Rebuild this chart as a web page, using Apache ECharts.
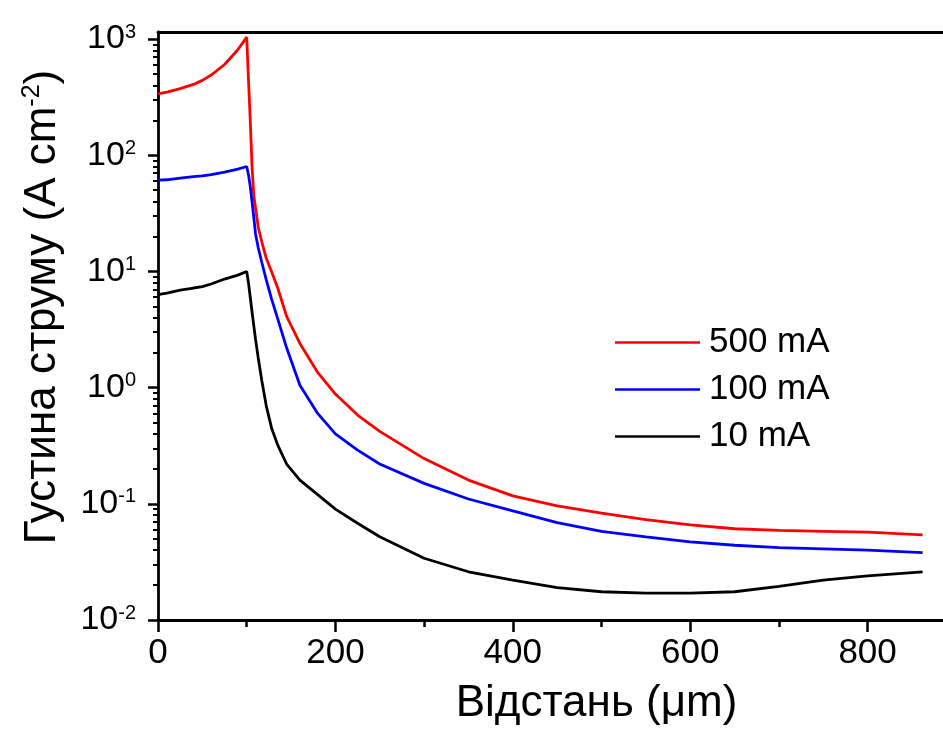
<!DOCTYPE html>
<html lang="uk">
  <head>
    <meta charset="UTF-8" />
    <title>Густина струму</title>
    <style>
      * { margin: 0; padding: 0; box-sizing: border-box; }
      #main { width: 943px; height: 731px; background: #fff; }
    </style>
  </head>
  <body>
    <div id="main"></div>
    <script src="https://cdn.jsdelivr.net/npm/echarts@6/dist/echarts.min.js"></script>
    <script>
      // відстань, мкм
      const distance = [0, 10, 25, 40, 50, 60, 75, 90, 100, 102, 104, 106, 108, 110, 113, 117, 122, 128, 135, 145, 160, 180, 200, 225, 250, 300, 350, 400, 450, 500, 550, 600, 650, 700, 750, 800, 862];
      // густина струму, A/cm2
      const j500 = [337, 349, 374, 407, 441, 490, 604, 809, 1040, 450, 200, 80, 45, 35, 24, 18, 13, 10, 7.2, 4.1, 2.4, 1.35, 0.88, 0.58, 0.42, 0.245, 0.16, 0.117, 0.096, 0.083, 0.073, 0.066, 0.061, 0.059, 0.058, 0.057, 0.054];
      const j100 = [61, 61.5, 63.5, 65.5, 66.5, 68, 71.5, 76, 80, 68, 54, 40, 29, 21, 16, 12, 8.5, 5.8, 3.9, 2.2, 1.05, 0.6, 0.4, 0.29, 0.22, 0.15, 0.11, 0.087, 0.069, 0.058, 0.052, 0.047, 0.044, 0.042, 0.041, 0.04, 0.038];
      const j10 = [6.3, 6.5, 6.9, 7.2, 7.4, 7.8, 8.6, 9.3, 10, 8, 6, 4.5, 3.4, 2.6, 1.8, 1.15, 0.7, 0.45, 0.32, 0.22, 0.16, 0.12, 0.09, 0.068, 0.052, 0.034, 0.026, 0.022, 0.019, 0.0175, 0.017, 0.017, 0.0175, 0.0195, 0.022, 0.024, 0.026];

      const seriesNames = ["500 mA", "100 mA", "10 mA"];
      const seriesColors = ["#ff0000", "#0000ff", "#000000"];
      const xMajor = [0, 200, 400, 600, 800];
      const xMinor = [100, 300, 500, 700];
      const xMax = 885; // графік обрізано праворуч
      const yMax = 1150;
      const decades = [-2, -1, 0, 1, 2, 3];

      const font = "Liberation Sans";
      const pair = (ys) => distance.map((x, i) => [x, ys[i]]);
      // мінорні поділки 2..9 на кожну декаду
      const yMinor = [];
      decades.slice(0, -1).forEach((d) => {
        for (let k = 2; k <= 9; k++) yMinor.push(d + Math.log10(k));
      });

      const myChart = echarts.init(document.getElementById("main"));
      const lineAxis = { show: true, onZero: false, lineStyle: { color: "#000", width: 2.8 } };
      const noLine = { show: false, onZero: false };

      const option = {
        animation: false,
        textStyle: { fontFamily: font },
        grid: { left: 158, top: 32, right: 0, height: 589 },
        legend: {
          left: 615,
          top: 325,
          padding: 0,
          orient: "vertical",
          icon: "rect",
          itemWidth: 85,
          itemHeight: 2.5,
          itemGap: 12,
          data: seriesNames,
          textStyle: { fontSize: 35, lineHeight: 33, color: "#000", fontFamily: font, padding: [0, 0, 0, 4] },
        },
        xAxis: [
          {
            type: "value",
            min: 0,
            max: xMax,
            interval: 200,
            position: "bottom",
            axisLine: lineAxis,
            axisTick: { customValues: xMajor, length: 12, lineStyle: { color: "#000", width: 2.5 } },
            axisLabel: { customValues: xMajor, fontSize: 35, color: "#000", margin: 16, fontFamily: font },
            splitLine: { show: false },
            name: "Відстань (μm)",
            nameLocation: "middle",
            nameGap: 62,
            nameTextStyle: { fontSize: 44, color: "#000", fontFamily: font, padding: [0, 0, 0, 92] },
          },
          {
            type: "value",
            min: 0,
            max: xMax,
            position: "bottom",
            axisLine: noLine,
            axisTick: { customValues: xMinor, length: 7, lineStyle: { color: "#000", width: 2.5 } },
            axisLabel: { show: false },
            splitLine: { show: false },
          },
          {
            type: "value",
            min: 0,
            max: xMax,
            position: "top",
            axisLine: lineAxis,
            axisTick: { show: false },
            axisLabel: { show: false },
            splitLine: { show: false },
          },
        ],
        yAxis: [
          {
            type: "log",
            logBase: 10,
            min: 0.01,
            max: yMax,
            position: "left",
            axisLine: lineAxis,
            axisTick: { show: false },
            axisLabel: { show: false },
            splitLine: { show: false },
            name: "{t|Густина струму (A cm}{s|-2}{t|)}",
            nameLocation: "middle",
            nameGap: 92,
            nameRotate: 90,
            nameTextStyle: {
              padding: [0, 0, 0, 38],
              rich: {
                t: { fontSize: 44, color: "#000", fontFamily: font, lineHeight: 46 },
                s: { fontSize: 25, color: "#000", fontFamily: font, verticalAlign: "top", lineHeight: 25 },
              },
            },
          },
          {
            type: "value",
            min: -2,
            max: Math.log10(yMax),
            position: "left",
            axisLine: noLine,
            axisTick: { customValues: decades, length: 10, lineStyle: { color: "#000", width: 2.5 } },
            axisLabel: {
              customValues: decades,
              margin: 22,
              formatter: (v) => "{b|10}{s|" + Math.round(v) + "}",
              rich: {
                b: { fontSize: 34, color: "#000", fontFamily: font, lineHeight: 34 },
                s: { fontSize: 20, color: "#000", fontFamily: font, verticalAlign: "top", lineHeight: 18 },
              },
            },
            splitLine: { show: false },
          },
          {
            type: "value",
            min: -2,
            max: Math.log10(yMax),
            position: "left",
            axisLine: noLine,
            axisTick: { customValues: yMinor, length: 5, lineStyle: { color: "#000", width: 2 } },
            axisLabel: { show: false },
            splitLine: { show: false },
          },
        ],
        series: [j500, j100, j10].map((ys, i) => ({
          name: seriesNames[i],
          type: "line",
          xAxisIndex: 0,
          yAxisIndex: 0,
          showSymbol: false,
          symbol: "none",
          data: pair(ys),
          lineStyle: { color: seriesColors[i], width: 2.8 },
          itemStyle: { color: seriesColors[i] },
        })),
      };
      myChart.setOption(option);
    </script>
  </body>
</html>
